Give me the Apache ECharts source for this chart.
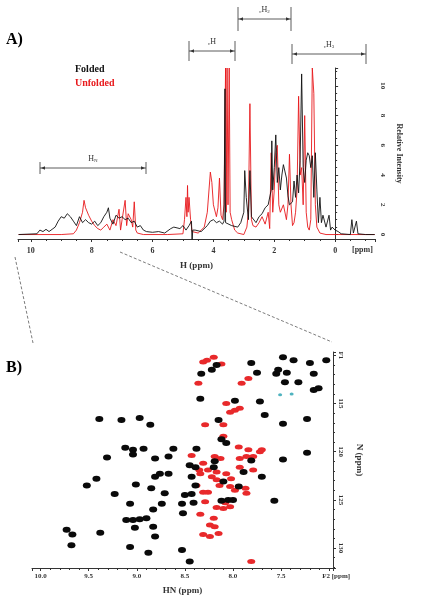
<!DOCTYPE html>
<html>
<head>
<meta charset="utf-8">
<script src="https://cdn.jsdelivr.net/npm/echarts@6/dist/echarts.min.js"></script>
<style>html,body{margin:0;padding:0;background:#fff}#c{width:421px;height:601px}</style>
</head>
<body>
<div id="c"></div>
<script>
// 1D 1H spectra: [ppm, relative intensity]
var foldedSpec = [[10.4,0],[9.8,0.05],[9.7,0.3],[9.6,0.2],[9.5,0.35],[9.4,0.2],[9.3,0.35],[9.2,0.5],[9.1,0.9],[9.0,1.2],[8.9,1.1],[8.8,1.4],[8.7,1.2],[8.6,0.9],[8.5,0.6],[8.4,1.2],[8.3,0.8],[8.2,1.0],[8.1,0.8],[8.0,0.7],[7.9,0.9],[7.8,0.6],[7.7,0.8],[7.6,1.2],[7.5,1.5],[7.45,1.8],[7.4,1.1],[7.3,0.7],[7.2,1.3],[7.1,1.1],[7.0,1.2],[6.9,1.0],[6.8,1.1],[6.7,0.8],[6.6,0.9],[6.5,0.5],[6.4,0.6],[6.3,0.3],[6.2,0.2],[6.0,0.15],[5.8,0.2],[5.6,0.1],[5.4,0.4],[5.3,0.5],[5.1,0.4],[5.0,0.6],[4.9,0.3],[4.8,0.6],[4.72,0.9],[4.7,-0.6],[4.68,0.3],[4.6,0.3],[4.4,0.2],[4.2,0.6],[4.1,0.9],[4.0,1.0],[3.9,0.8],[3.8,0.9],[3.7,0.7],[3.65,0.9],[3.62,9.8],[3.6,0.8],[3.55,0.7],[3.4,0.6],[3.2,0.5],[3.1,0.8],[3.0,1.5],[2.97,4.3],[2.92,2.5],[2.85,1.0],[2.8,4.3],[2.75,1.2],[2.6,0.8],[2.5,1.2],[2.4,1.4],[2.3,1.8],[2.2,2.0],[2.1,3.0],[2.08,6.3],[2.05,3.0],[2.0,4.5],[1.95,6.7],[1.9,3.5],[1.85,4.5],[1.8,3.0],[1.75,4.0],[1.7,4.7],[1.6,3.8],[1.55,2.6],[1.5,2.0],[1.4,2.2],[1.35,3.6],[1.3,2.5],[1.25,4.0],[1.2,2.8],[1.15,5.0],[1.1,10.8],[1.05,4.5],[1.0,3.5],[0.95,5.0],[0.9,5.5],[0.85,5.3],[0.8,4.5],[0.75,5.3],[0.7,2.5],[0.65,5.5],[0.6,3.0],[0.55,0.8],[0.5,2.5],[0.45,0.8],[0.4,1.3],[0.3,0.5],[0.2,1.3],[0.15,0.3],[0.1,0.5],[0.0,0.3],[-0.1,0.2],[-0.2,0.05],[-0.5,0.0],[-0.55,1.0],[-0.6,0.1],[-0.7,0.9],[-0.75,0.05],[-1.0,0],[-1.3,0]];
var unfoldedSpec = [[10.4,0],[9.0,0],[8.6,0.05],[8.5,0.3],[8.4,0.8],[8.3,1.5],[8.25,2.3],[8.2,1.8],[8.1,1.3],[8.0,0.9],[7.9,0.6],[7.8,0.4],[7.7,0.3],[7.6,0.5],[7.5,0.7],[7.4,0.3],[7.3,1.0],[7.2,0.6],[7.1,1.7],[7.05,0.3],[7.0,1.0],[6.9,2.3],[6.85,0.6],[6.8,1.4],[6.7,1.0],[6.65,0.5],[6.6,2.2],[6.55,0.3],[6.5,0.1],[6.3,0],[5.5,0],[5.0,0.05],[4.95,1.0],[4.9,2.5],[4.87,1.2],[4.85,3.3],[4.83,1.5],[4.8,2.5],[4.75,1.0],[4.7,0.2],[4.5,0.1],[4.3,0.5],[4.2,1.5],[4.1,4.2],[4.05,3.5],[4.0,2.0],[3.9,1.2],[3.85,1.8],[3.8,3.8],[3.75,1.3],[3.7,1.0],[3.65,2.0],[3.6,11.2],[3.58,1.5],[3.55,11.2],[3.52,2.0],[3.48,11.2],[3.45,1.5],[3.4,1.0],[3.3,0.3],[3.2,0.1],[3.0,0],[2.9,0.5],[2.85,1.5],[2.8,8.8],[2.75,1.0],[2.7,0.6],[2.6,0.5],[2.5,0.8],[2.4,1.2],[2.3,0.7],[2.2,1.5],[2.15,0.4],[2.1,5.5],[2.05,1.5],[2.0,3.0],[1.95,5.5],[1.9,6.0],[1.85,2.0],[1.8,1.5],[1.7,2.0],[1.6,1.0],[1.55,2.0],[1.5,5.4],[1.45,2.0],[1.4,0.6],[1.35,0.8],[1.3,1.5],[1.25,3.0],[1.2,9.3],[1.15,4.0],[1.1,4.5],[1.05,2.0],[1.0,8.0],[0.95,1.5],[0.9,0.5],[0.85,0.3],[0.8,1.0],[0.75,11.2],[0.7,9.5],[0.65,2.0],[0.6,0.5],[0.5,0.1],[0.3,0],[-1.3,0]];

// 2D HSQC peaks: [HN ppm, N ppm]
var foldedPeaks = [[7.81,110.8],[7.48,110.2],[7.37,110.5],[7.20,110.8],[7.03,110.5],[8.17,111.0],[8.33,111.9],[7.75,111.8],[7.55,111.9],[7.44,111.8],[7.46,112.8],[7.32,112.8],[7.16,111.9],[7.16,113.6],[7.11,113.4],[7.53,111.5],[7.72,114.8],[7.98,114.7],[8.22,111.5],[8.34,114.5],[7.67,116.2],[7.48,117.1],[7.23,116.6],[9.39,116.6],[9.16,116.7],[8.97,116.5],[8.86,117.2],[8.15,116.7],[8.12,118.7],[8.07,119.1],[8.38,119.7],[8.62,119.7],[9.12,119.6],[9.04,119.8],[8.93,119.7],[9.04,120.3],[9.31,120.6],[8.81,120.7],[8.67,120.5],[8.19,121.0],[8.39,121.6],[7.81,120.9],[7.48,120.8],[7.23,120.1],[8.45,121.4],[8.43,122.6],[9.42,122.8],[8.76,122.3],[8.81,122.6],[8.67,122.3],[9.52,123.5],[9.01,123.4],[8.85,123.8],[8.39,123.5],[7.94,123.6],[8.50,124.5],[9.23,124.4],[8.71,124.3],[8.43,124.4],[9.07,125.4],[8.74,125.4],[8.53,125.4],[8.41,125.3],[8.05,125.0],[8.00,125.0],[8.12,125.1],[7.57,125.1],[8.83,126.0],[8.52,126.4],[9.11,127.1],[9.04,127.1],[8.97,127.0],[8.90,126.9],[8.83,127.8],[9.02,127.9],[9.73,128.1],[9.67,128.6],[9.38,128.4],[8.81,128.8],[9.68,129.7],[9.07,129.9],[8.53,130.2],[8.88,130.5],[8.45,131.4],[7.70,122.6],[7.89,122.1],[8.20,121.6],[8.10,123.1]];
var unfoldedPeaks = [[8.27,110.5],[8.20,110.2],[8.31,110.7],[8.12,110.9],[7.84,112.4],[7.91,112.9],[8.36,112.9],[8.07,115.0],[7.98,115.7],[8.03,115.9],[7.93,115.5],[8.29,117.2],[8.10,117.2],[8.10,118.4],[7.94,119.5],[7.84,119.8],[7.72,120.0],[7.70,119.8],[8.43,120.4],[8.19,120.5],[8.13,120.7],[7.93,120.7],[7.86,120.5],[7.79,120.5],[8.31,121.2],[8.35,121.9],[8.26,121.9],[8.17,122.1],[8.22,122.6],[8.34,122.3],[8.07,122.3],[8.02,122.8],[8.14,123.5],[8.03,123.6],[7.98,124.0],[7.87,123.8],[8.26,124.2],[8.38,123.5],[8.31,124.2],[7.86,124.3],[8.17,122.9],[8.29,125.2],[8.08,125.3],[8.10,125.9],[8.03,125.7],[8.17,125.8],[8.34,126.5],[8.20,126.9],[8.24,127.6],[8.19,127.8],[8.31,128.6],[8.24,128.8],[8.15,128.5],[7.81,131.4],[7.79,121.9],[7.93,121.6]];
var minorPeaks = [[7.51,114.1],[7.39,114.0]];

var serif = '"Liberation Serif", "DejaVu Serif", serif';
var chart = echarts.init(document.getElementById('c'));

// 括号标注（像素坐标）
function bracket(x1, x2, y, h, label, sub, pre) {
  return [
    {type: 'line', shape: {x1: x1, y1: y, x2: x2, y2: y}, style: {stroke: '#333', lineWidth: 0.8}},
    {type: 'line', shape: {x1: x1, y1: y - h, x2: x1, y2: y + h}, style: {stroke: '#333', lineWidth: 0.8}},
    {type: 'line', shape: {x1: x2, y1: y - h, x2: x2, y2: y + h}, style: {stroke: '#333', lineWidth: 0.8}},
    {type: 'polygon', shape: {points: [[x1 + 1, y], [x1 + 5, y - 1.8], [x1 + 5, y + 1.8]]}, style: {fill: '#333'}},
    {type: 'polygon', shape: {points: [[x2 - 1, y], [x2 - 5, y - 1.8], [x2 - 5, y + 1.8]]}, style: {fill: '#333'}},
    {type: 'text', x: (x1 + x2) / 2, y: y - 5, style: {
      text: (pre ? '{s|' + pre + '}' : '') + '{m|' + label + '}' + (sub ? '{s|' + sub + '}' : ''),
      align: 'center', verticalAlign: 'bottom',
      rich: {m: {fontFamily: serif, fontSize: 8, fill: '#333'}, s: {fontFamily: serif, fontSize: 5, fill: '#333', verticalAlign: 'bottom', padding: [4, 0, 0, 0]}}
    }}
  ];
}

var axisFont = {fontFamily: serif, fontWeight: 'bold', color: '#333'};

var option = {
  animation: false,
  backgroundColor: '#fff',
  grid: [
    {left: 18, right: 46, top: 68, height: 171},
    {left: 32, right: 88, top: 352, bottom: 33}
  ],
  xAxis: [{
    gridIndex: 0, type: 'value', inverse: true, min: -1.31, max: 10.42, splitNumber: 6,
    name: 'H (ppm)', nameLocation: 'middle', nameGap: 22,
    nameTextStyle: Object.assign({fontSize: 9}, axisFont),
    axisLine: {onZero: false, lineStyle: {color: '#333'}},
    axisTick: {length: 3, lineStyle: {color: '#333'}},
    minorTick: {show: true, splitNumber: 4, length: 2, lineStyle: {color: '#333'}},
    splitLine: {show: false},
    axisLabel: Object.assign({fontSize: 8, showMinLabel: false, showMaxLabel: false}, axisFont)
  }, {
    gridIndex: 1, type: 'value', inverse: true, min: 6.96, max: 10.09, splitNumber: 6,
    name: 'HN (ppm)', nameLocation: 'middle', nameGap: 18,
    nameTextStyle: Object.assign({fontSize: 9}, axisFont),
    axisLine: {onZero: false, lineStyle: {color: '#333'}},
    axisTick: {length: 3, lineStyle: {color: '#333'}},
    minorTick: {show: true, splitNumber: 5, length: 2, lineStyle: {color: '#333'}},
    splitLine: {show: false},
    axisLabel: Object.assign({fontSize: 7, margin: 5, showMinLabel: false, showMaxLabel: false,
      formatter: function (v) { return Math.abs(v - 7) < 0.01 ? '        F2 [ppm]' : v.toFixed(1); }}, axisFont)
  }],
  yAxis: [{
    gridIndex: 0, type: 'value', position: 'right', min: -0.3, max: 11.2, splitNumber: 6,
    name: 'Relative Intensity', nameLocation: 'middle', nameGap: 20, nameRotate: 270,
    nameTextStyle: Object.assign({fontSize: 8}, axisFont),
    axisLine: {show: true, lineStyle: {color: '#333'}},
    axisTick: {show: true, length: 3, lineStyle: {color: '#333'}},
    minorTick: {show: true, splitNumber: 4, length: 2, lineStyle: {color: '#333'}},
    splitLine: {show: false},
    axisLabel: Object.assign({fontSize: 7, rotate: 270, margin: 4, showMinLabel: false, showMaxLabel: false}, axisFont)
  }, {
    gridIndex: 1, type: 'value', position: 'right', inverse: true, min: 109.65, max: 132.07, splitNumber: 4,
    name: 'N (ppm)', nameLocation: 'middle', nameGap: 22, nameRotate: 270,
    nameTextStyle: Object.assign({fontSize: 9}, axisFont),
    axisLine: {show: true, lineStyle: {color: '#333'}},
    axisTick: {show: true, length: 3, lineStyle: {color: '#333'}},
    minorTick: {show: true, splitNumber: 5, length: 2, lineStyle: {color: '#333'}},
    splitLine: {show: false},
    axisLabel: Object.assign({fontSize: 7, rotate: 270, margin: 4, showMinLabel: false, showMaxLabel: false,
      formatter: function (v) { return Math.abs(v - 110) < 0.01 ? 'F1' : Math.round(v); }}, axisFont)
  }],
  series: [
    {type: 'line', xAxisIndex: 0, yAxisIndex: 0, data: unfoldedSpec, symbol: 'none',
      lineStyle: {color: '#e8191c', width: 0.9}, z: 2},
    {type: 'line', xAxisIndex: 0, yAxisIndex: 0, data: foldedSpec, symbol: 'none',
      lineStyle: {color: '#111', width: 0.9}, z: 3},
    {type: 'scatter', xAxisIndex: 1, yAxisIndex: 1, data: unfoldedPeaks, symbol: 'circle', symbolSize: [8, 5],
      itemStyle: {color: '#e8292b', opacity: 1}, z: 2},
    {type: 'scatter', xAxisIndex: 1, yAxisIndex: 1, data: foldedPeaks, symbol: 'circle', symbolSize: [8, 6],
      itemStyle: {color: '#0a0a0a', opacity: 1}, z: 3},
    {type: 'scatter', xAxisIndex: 1, yAxisIndex: 1, data: minorPeaks, symbol: 'circle', symbolSize: [4, 3],
      itemStyle: {color: '#4fb3bf', opacity: 1}, z: 4}
  ],
  graphic: [
    {type: 'text', left: 6, top: 32, style: {text: 'A)', fontFamily: serif, fontWeight: 'bold', fontSize: 16, fill: '#000'}},
    {type: 'text', left: 6, top: 360, style: {text: 'B)', fontFamily: serif, fontWeight: 'bold', fontSize: 16, fill: '#000'}},
    {type: 'text', left: 75, top: 64, style: {text: 'Folded', fontFamily: serif, fontWeight: 'bold', fontSize: 10, fill: '#111'}},
    {type: 'text', left: 75, top: 78, style: {text: 'Unfolded', fontFamily: serif, fontWeight: 'bold', fontSize: 10, fill: '#e8191c'}},
    {type: 'text', left: 352, top: 246, style: {text: '[ppm]', fontFamily: serif, fontWeight: 'bold', fontSize: 8, fill: '#333'}},
    {type: 'line', shape: {x1: 15, y1: 257, x2: 33, y2: 343}, style: {stroke: '#444', lineWidth: 0.7, lineDash: [3, 2]}},
    {type: 'line', shape: {x1: 120, y1: 252, x2: 332, y2: 342}, style: {stroke: '#444', lineWidth: 0.7, lineDash: [3, 2]}}
  ].concat(
    bracket(40, 146, 168, 6, 'H', 'N'),
    bracket(189, 235, 51, 10, 'H', null, 'c'),
    bracket(238, 291, 19, 12, 'H', '2', 'c'),
    bracket(292, 366, 54, 10, 'H', '3', 'c')
  )
};
chart.setOption(option);
</script>
</body>
</html>
